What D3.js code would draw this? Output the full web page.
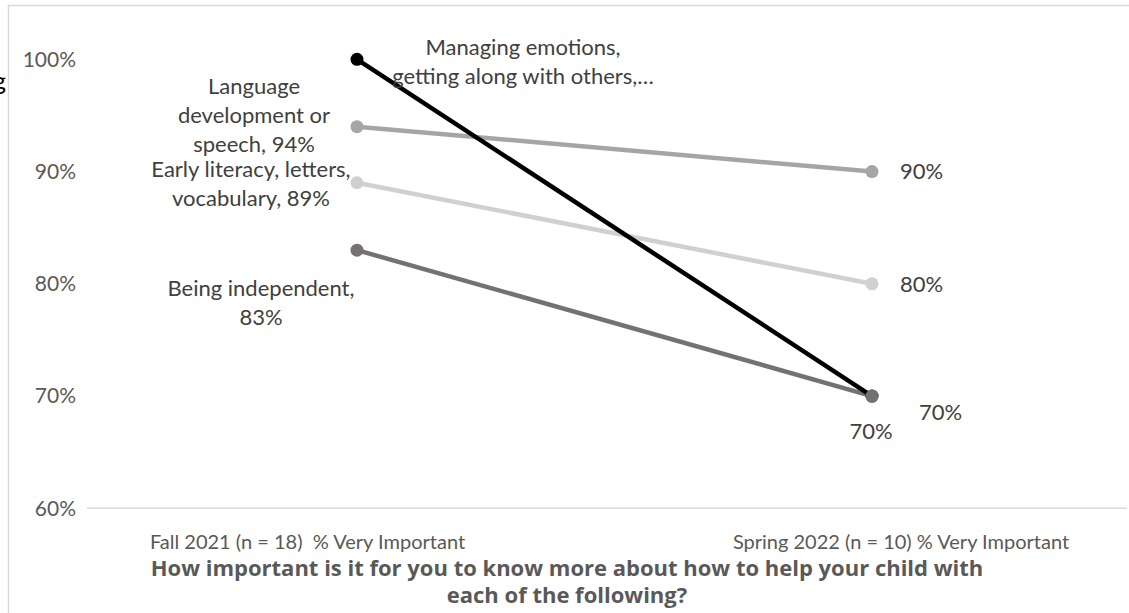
<!DOCTYPE html>
<html>
<head>
<meta charset="utf-8">
<script src="https://cdn.jsdelivr.net/npm/d3@7"></script>
<style>
  body { margin: 0; background: #fff; }
  text { white-space: pre; }
</style>
</head>
<body>
<div id="chart"></div>
<script>
var svgWidth = 1129;
var svgHeight = 613;

// data
var categories = ["Fall 2021 (n = 18)  % Very Important", "Spring 2022 (n = 10) % Very Important"];
var seriesNames = [
  "Managing emotions, getting along with others,…",
  "Language development or speech",
  "Early literacy, letters, vocabulary",
  "Being independent"
];
var fallValues = [1.00, 0.94, 0.89, 0.83];
var springValues = [0.70, 0.90, 0.80, 0.70];
var yTicks = [0.6, 0.7, 0.8, 0.9, 1.0];
var titleLines = ["How important is it for you to know more about how to help your child with", "each of the following?"];

// left-side label text, wrapped as in the original
var fallLabelLines = [
  ["Managing emotions,", "getting along with others,…"],
  ["Language", "development or", "speech, 94%"],
  ["Early literacy, letters,", "vocabulary, 89%"],
  ["Being independent,", "83%"]
];

var colors = ["#000000", "#a5a5a5", "#d0d0d0", "#767171"];
// label placement relative to the Fall point: [dx of text centre, dy of first line]
var fallLabelPos = [[166, -12], [-103, -40], [-106, -13], [-96, 38]];
// Spring label placement: [dx, dy, anchor]
var springLabelPos = [[47, 16, "start"], [28, 0, "start"], [28, 0, "start"], [-1, 35, "middle"]];

var font = "Lato, sans-serif";

var svg = d3.select("#chart")
  .append("svg")
  .attr("width", svgWidth)
  .attr("height", svgHeight)
  .style("font-family", font);

// chart border (clipped at right/bottom like the source)
svg.append("rect")
  .attr("x", 8.5).attr("y", 5.5)
  .attr("width", 1140).attr("height", 640)
  .attr("fill", "none")
  .attr("stroke", "#d9d9d9")
  .attr("stroke-width", 1.5);

// cut-off piece of a title at the far left
svg.append("text")
  .attr("x", 6).attr("y", 90)
  .attr("text-anchor", "end")
  .attr("font-size", 25)
  .attr("fill", "#000")
  .text("g");

var x = d3.scalePoint()
  .domain(categories)
  .range([99.5, 1129.5])
  .padding(0.5);

var y = d3.scaleLinear()
  .domain([0.6, 1.0])
  .range([508.3, 59.3]);

// y axis labels
var leftAxis = d3.axisLeft(y)
  .tickValues(yTicks)
  .tickFormat(d3.format(".0%"))
  .tickSize(0)
  .tickPadding(0);

svg.append("g")
  .attr("transform", "translate(76,0)")
  .call(leftAxis)
  .call(g => g.select(".domain").remove())
  .call(g => g.selectAll("text")
    .attr("font-size", 21)
    .attr("fill", "#595959")
    .attr("font-family", font));

// baseline at 60%
svg.append("line")
  .attr("x1", 87).attr("x2", 1127)
  .attr("y1", y(0.6)).attr("y2", y(0.6))
  .attr("stroke", "#d9d9d9")
  .attr("stroke-width", 1.5);

// category labels
var catOffset = [-49.5, 29];
svg.selectAll(".cat")
  .data(categories)
  .enter()
  .append("text")
  .attr("class", "cat")
  .attr("x", (d, i) => x(d) + catOffset[i])
  .attr("y", 541.7)
  .attr("dy", "0.35em")
  .attr("text-anchor", "middle")
  .attr("font-size", 20)
  .attr("fill", "#595959")
  .text(d => d);

// axis title
svg.selectAll(".title")
  .data(titleLines)
  .enter()
  .append("text")
  .attr("class", "title")
  .attr("x", 567)
  .attr("y", (d, i) => 568 + i * 27.5)
  .attr("dy", "0.35em")
  .attr("text-anchor", "middle")
  .style("font-family", "'Open Sans', Lato, sans-serif")
  .style("font-size", "22px")
  .style("font-weight", "bold")
  .attr("fill", "#595959")
  .text(d => d);

var series = seriesNames.map((name, i) => ({
  name: name,
  i: i,
  values: [fallValues[i], springValues[i]]
}));

var line = d3.line()
  .x((d, j) => x(categories[j]))
  .y(d => y(d));

// lines: grey ones first, black on top
var lineOrder = [1, 2, 3, 0];
svg.selectAll(".series")
  .data(lineOrder.map(i => series[i]))
  .enter()
  .append("path")
  .attr("class", "series")
  .attr("d", d => line(d.values))
  .attr("fill", "none")
  .attr("stroke", d => colors[d.i])
  .attr("stroke-width", 4.5);

// markers: black first so the grey end point covers it
var markerOrder = [0, 1, 2, 3];
markerOrder.forEach(function(i) {
  svg.selectAll(".m" + i)
    .data(series[i].values)
    .enter()
    .append("circle")
    .attr("cx", (d, j) => x(categories[j]))
    .attr("cy", d => y(d))
    .attr("r", 6.5)
    .attr("fill", colors[i]);
});

// Fall labels
series.forEach(function(s) {
  var p = fallLabelPos[s.i];
  var t = svg.append("text")
    .attr("text-anchor", "middle")
    .attr("font-size", 22)
    .attr("fill", "#404040");
  fallLabelLines[s.i].forEach(function(str, k) {
    t.append("tspan")
      .attr("x", x(categories[0]) + p[0])
      .attr("y", y(s.values[0]) + p[1] + k * 28.7)
      .attr("dy", "0.35em")
      .text(str);
  });
});

// Spring labels
series.forEach(function(s) {
  var p = springLabelPos[s.i];
  svg.append("text")
    .attr("x", x(categories[1]) + p[0])
    .attr("y", y(s.values[1]) + p[1])
    .attr("dy", "0.35em")
    .attr("text-anchor", p[2])
    .attr("font-size", 22)
    .attr("fill", "#404040")
    .text(d3.format(".0%")(s.values[1]));
});
</script>
</body>
</html>
